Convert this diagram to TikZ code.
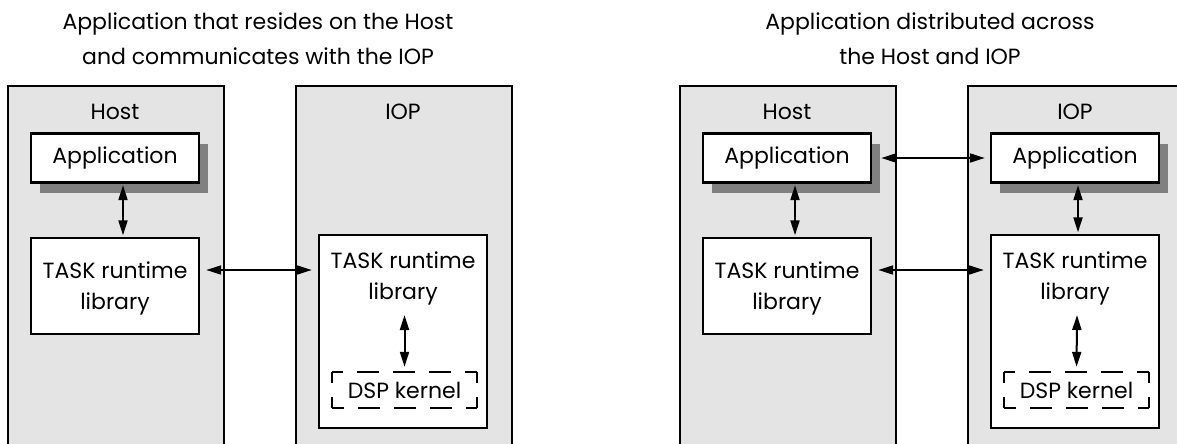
\documentclass[tikz,border=0pt]{standalone}
\usepackage{fontspec}
\setmainfont{Poppins}
\usetikzlibrary{arrows.meta,calc}
\definecolor{panelgray}{HTML}{E4E4E4}
\definecolor{shadowgray}{HTML}{808080}
\tikzset{
  every node/.style={font=\fontsize{22}{31}\selectfont, text=black},
  panel/.style={draw=black, line width=2.4pt, fill=panelgray, anchor=north west,
    minimum width=216pt, minimum height=400pt, inner sep=0pt},
  box/.style={draw=black, line width=2.4pt, fill=white, inner sep=0pt,
    minimum width=168pt, align=center},
  shade/.style={fill=shadowgray, inner sep=0pt, minimum width=168pt, minimum height=49pt},
  lbl/.style={align=center, inner sep=0pt},
  kernel/.style={inner sep=0pt, minimum width=145pt, minimum height=36pt},
  kdash/.style={line width=2pt, dash pattern=on 22pt off 14pt, dash phase=10.5pt},
  biarrow/.style={line width=2pt, {Triangle[length=15pt,width=9pt]}-{Triangle[length=15pt,width=9pt]}},
  title/.style={align=center, inner sep=0pt, font=\fontsize{22}{35}\selectfont},
}
\begin{document}
\begin{tikzpicture}[x=1pt, y=-1pt]
\clip (0,0) rectangle (1177,444);
\fill[white] (0,0) rectangle (1177,444);

% ---------- left diagram: application on the host ----------
\node[title] (t1) at (258,39) {Application that resides on the Host\\and communicates with the IOP};

\node[panel] (hostL) at (7,85) {};
\node[panel] (iopL) at (295,85) {};
\node (hostLt) at (115,112) {Host};
\node (iopLt) at (403,112) {IOP};

\node[shade] (appLs) at (124,168) {};
\node[box, minimum height=49pt] (appL) at (115,158) {Application};
\node[box, minimum height=96pt] (taskL) at (115,286) {};
\node[lbl] (taskLt) at (115,288) {TASK runtime\\library};

\node[box, minimum height=193pt] (taskIL) at (403,331.5) {};
\node[lbl] (taskILt) at (403,278) {TASK runtime\\library};
\node[kernel] (dspL) at (404.5,390) {DSP kernel};
\draw[kdash] (dspL.north west) -- (dspL.north east);
\draw[kdash] (dspL.north east) -- (dspL.south east);
\draw[kdash] (dspL.south east) -- (dspL.south west);
\draw[kdash] (dspL.south west) -- (dspL.north west);
\coordinate (kL) at (404.5,315);

\draw[biarrow, shorten <=1.5pt, shorten >=1.5pt] ([xshift=8pt]appL.south) -- ([xshift=8pt]taskL.north);
\draw[biarrow, shorten <=6pt, shorten >=6pt] ([yshift=16pt]taskL.east) -- ([yshift=16pt]taskL.east -| taskIL.west);
\draw[biarrow, shorten >=5pt] (kL) -- (dspL.north);

% ---------- right diagram: application split over host and IOP ----------
\node[title] (t2) at (930,39) {Application distributed across\\the Host and IOP};

\node[panel] (hostR) at (679,85) {};
\node[panel] (iopR) at (967,85) {};
\node (hostRt) at (787,112) {Host};
\node (iopRt) at (1075,112) {IOP};

\node[shade] (appRs) at (796,168) {};
\node[box, minimum height=49pt] (appR) at (787,158) {Application};
\node[box, minimum height=96pt] (taskR) at (787,286) {};
\node[lbl] (taskRt) at (787,288) {TASK runtime\\library};

\node[shade] (appRIs) at (1084,168) {};
\node[box, minimum height=49pt] (appRI) at (1075,158) {Application};
\node[box, minimum height=193pt] (taskRI) at (1075,331.5) {};
\node[lbl] (taskRIt) at (1075,278) {TASK runtime\\library};
\node[kernel] (dspR) at (1076.5,390) {DSP kernel};
\draw[kdash] (dspR.north west) -- (dspR.north east);
\draw[kdash] (dspR.north east) -- (dspR.south east);
\draw[kdash] (dspR.south east) -- (dspR.south west);
\draw[kdash] (dspR.south west) -- (dspR.north west);
\coordinate (kR) at (1077,315);

\draw[biarrow, shorten <=1.5pt, shorten >=1.5pt] ([xshift=8pt]appR.south) -- ([xshift=8pt]taskR.north);
\draw[biarrow, shorten <=1.5pt, shorten >=1.5pt] ([xshift=3pt]appRI.south) -- ([xshift=3pt]taskRI.north);
\draw[biarrow, shorten <=1pt, shorten >=5pt] (appR.east -| appRs.east) -- (appR.east -| appRI.west);
\draw[biarrow, shorten <=6pt, shorten >=6pt] ([yshift=16pt]taskR.east) -- ([yshift=16pt]taskR.east -| taskRI.west);
\draw[biarrow, shorten >=5pt] (kR) -- (dspR.north);
\end{tikzpicture}
\end{document}
